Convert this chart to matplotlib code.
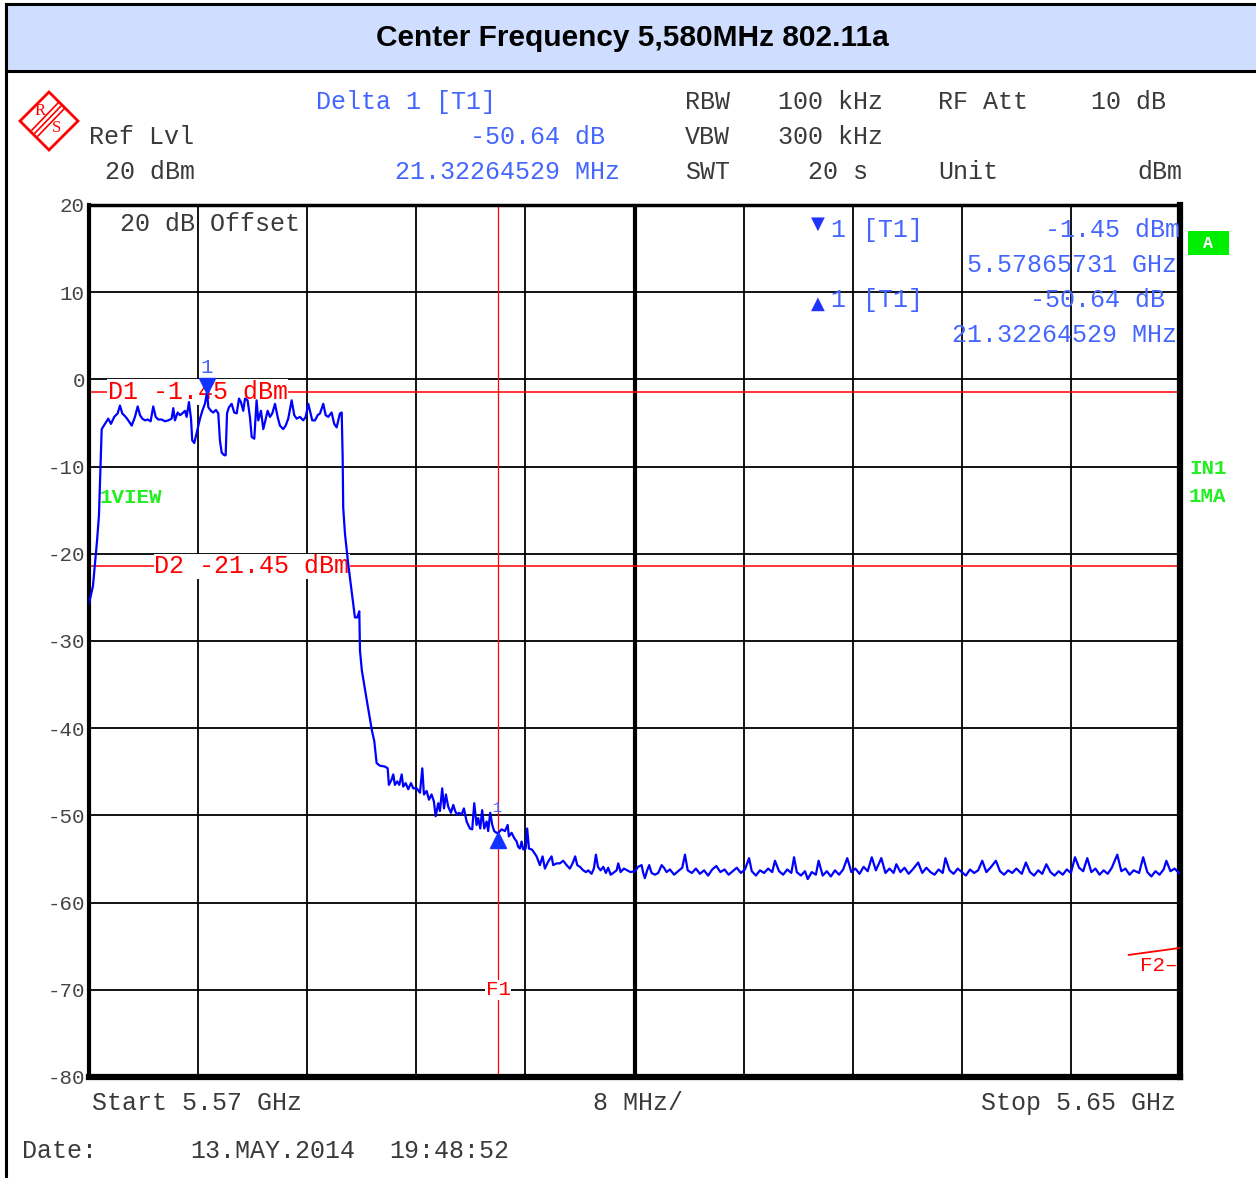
import numpy as np
import matplotlib.pyplot as plt
from matplotlib.patches import Rectangle, Polygon
from matplotlib.lines import Line2D
import matplotlib.transforms as mtransforms

# sweep settings
start_mhz = 5570.0
stop_mhz = 5650.0
ref_lvl = 20
bottom_lvl = -80

# marker / display lines
m1_freq = 5578.65731
m1_level = -1.45
delta_freq = 21.32264529
delta_level = -50.64
d1_level = -1.45
d2_level = -21.45
f1_freq = 5600.0

# trace: offset from start (MHz), level (dBm)
offset_mhz = [
    0.00, 0.29, 0.59, 0.73, 0.93, 1.17, 1.41, 1.61, 1.85, 2.10, 2.27, 2.44, 2.69, 2.88,
    3.13, 3.37, 3.57, 3.74, 3.91, 4.11, 4.30, 4.52, 4.71, 4.89, 5.08, 5.33, 5.57, 5.81,
    6.06, 6.18, 6.30, 6.50, 6.67, 6.84, 7.04, 7.16, 7.33, 7.48, 7.57, 7.72, 7.90, 8.14,
    8.31, 8.50, 8.66, 8.75, 8.94, 9.11, 9.31, 9.48, 9.60, 9.73, 9.92, 10.02, 10.12, 10.26,
    10.46, 10.65, 10.83, 11.00, 11.14, 11.31, 11.44, 11.63, 11.80, 11.93, 12.12, 12.29,
    12.41, 12.61, 12.78, 12.90, 13.10, 13.27, 13.44, 13.64, 13.83, 14.00, 14.24, 14.42,
    14.61, 14.86, 15.05, 15.23, 15.47, 15.71, 15.89, 16.08, 16.25, 16.37, 16.57, 16.77,
    16.94, 17.18, 17.35, 17.54, 17.79, 17.98, 18.16, 18.28, 18.40, 18.53, 18.60, 18.64,
    18.77, 19.01, 19.26, 19.50, 19.67, 19.82, 19.87, 20.01, 20.38, 20.75, 20.92, 21.09,
    21.33, 21.70, 21.90, 21.99, 22.19, 22.31, 22.43, 22.60, 22.75, 22.93, 23.04, 23.22,
    23.41, 23.61, 23.78, 24.03, 24.27, 24.44, 24.56, 24.76, 24.93, 25.12, 25.29, 25.42,
    25.61, 25.73, 25.90, 26.03, 26.17, 26.34, 26.54, 26.71, 26.83, 26.96, 27.13, 27.32,
    27.49, 27.69, 27.93, 28.10, 28.25, 28.42, 28.54, 28.69, 28.83, 28.98, 29.16, 29.27,
    29.42, 29.57, 29.71, 29.89, 30.01, 30.26, 30.50, 30.70, 30.79, 30.99, 31.18, 31.36,
    31.47, 31.60, 31.72, 31.84, 32.02, 32.13, 32.26, 32.46, 32.57, 32.82, 33.06, 33.26,
    33.43, 33.67, 33.92, 34.04, 34.29, 34.53, 34.77, 35.02, 35.26, 35.46, 35.65, 35.80,
    36.00, 36.24, 36.44, 36.61, 36.85, 37.02, 37.17, 37.32, 37.51, 37.71, 37.90, 38.07,
    38.25, 38.44, 38.69, 38.81, 38.98, 39.22, 39.46, 39.71, 40.03, 40.27, 40.52, 40.64,
    40.76, 40.93, 41.08, 41.25, 41.50, 41.74, 41.99, 42.16, 42.35,
    42.6, 42.9, 43.2, 43.5, 43.7, 43.9, 44.2, 44.5, 44.8, 45.1, 45.4, 45.7, 46.0, 46.3,
    46.6, 46.9, 47.2, 47.5, 47.8, 48.1, 48.4, 48.6, 48.9, 49.2, 49.5, 49.8, 50.1, 50.3,
    50.6, 50.9, 51.2, 51.5, 51.7, 51.9, 52.2, 52.5, 52.7, 53.0, 53.3, 53.5, 53.8, 54.1,
    54.4, 54.7, 55.0, 55.3, 55.6, 55.9, 56.2, 56.5, 56.8, 57.1, 57.4, 57.7, 58.1, 58.4,
    58.7, 59.0, 59.2, 59.5, 59.8, 60.1, 60.4, 60.8, 61.1, 61.4, 61.7, 62.0, 62.3, 62.6,
    62.8, 63.1, 63.4, 63.7, 64.0, 64.3, 64.6, 64.9, 65.2, 65.5, 65.8, 66.1, 66.5, 66.8,
    67.1, 67.4, 67.7, 68.0, 68.4, 68.7, 69.0, 69.3, 69.6, 69.9, 70.2, 70.5, 70.8, 71.1,
    71.4, 71.7, 72.0, 72.3, 72.6, 72.9, 73.2, 73.5, 73.8, 74.1, 74.4, 74.7, 75.0, 75.4,
    75.7, 76.0, 76.3, 76.6, 77.0, 77.3, 77.6, 77.9, 78.2, 78.5, 78.8, 79.0, 79.3, 79.6,
    80.0,
]
level_dbm = [
    -25.7, -23.7, -18.5, -15.6, -5.7, -5.1, -4.5, -5.1, -4.3, -3.9, -3.0, -3.9, -4.3, -4.7,
    -5.3, -4.3, -3.1, -4.1, -4.5, -4.7, -4.6, -4.8, -3.1, -4.3, -4.6, -4.6, -4.8, -4.7,
    -4.5, -3.3, -4.7, -3.8, -4.1, -3.9, -3.6, -4.3, -2.6, -4.5, -7.0, -7.3, -6.1, -4.5,
    -3.6, -2.8, -1.45, -3.2, -3.6, -3.8, -3.5, -3.9, -7.0, -8.4, -8.7, -8.7, -3.9, -3.2,
    -2.8, -3.8, -3.9, -2.2, -2.6, -3.6, -2.2, -2.4, -4.3, -6.6, -6.8, -2.4,
    -4.7, -3.6, -5.7, -4.9, -3.6, -4.3, -3.9, -2.8, -4.3, -5.3, -5.7, -5.3,
    -4.5, -2.4, -4.1, -4.5, -4.3, -4.7, -4.3, -2.8, -3.9, -4.7, -4.7, -4.1,
    -3.9, -2.8, -4.1, -4.3, -3.8, -5.1, -5.5, -4.7, -3.9, -3.8, -8.9, -14.7,
    -17.7, -21.2, -24.3, -27.3, -27.3, -26.6, -31.1, -33.4, -36.9, -40.3, -41.5, -44.0,
    -44.3, -44.4, -44.6, -46.5, -45.9, -45.3, -46.5, -46.1, -46.5, -45.3, -46.7, -46.3,
    -47.0, -46.3, -46.9, -46.9, -47.4, -44.6, -47.6, -47.2, -48.2, -47.6, -48.4, -50.1,
    -48.6, -49.5, -46.9, -49.2, -47.6, -49.0, -49.7, -48.8, -49.4, -49.9, -49.7, -49.9,
    -49.2, -50.7, -51.5, -51.6, -48.6, -51.1, -50.3, -51.5, -49.4, -51.5, -50.7, -51.8,
    -49.7, -51.1, -51.8, -52.0, -52.0, -51.6, -51.8, -51.1, -52.4, -52.0, -52.6, -53.0,
    -53.6, -53.8, -53.0, -53.9, -53.8, -51.5, -53.8, -53.9, -54.1, -54.7, -55.7, -54.7,
    -56.1, -55.3, -54.7, -55.7, -55.5, -55.5, -55.2, -55.7, -56.1, -55.5, -54.7, -55.7,
    -55.9, -56.3, -56.5, -56.3, -56.7, -56.1, -54.5, -55.9, -56.3, -55.9, -56.6, -56.0,
    -56.8, -56.6, -56.3, -55.5, -56.5, -56.1, -56.3, -56.5, -56.4, -55.9, -55.7, -56.6,
    -57.2, -56.3, -55.7, -56.6, -56.8, -56.6, -55.7, -56.0, -56.5,
    -56.2, -56.8, -56.4, -56.0, -54.5, -56.3, -56.6, -56.1, -56.7, -56.3, -56.9, -56.2, -55.8, -56.5,
    -56.2, -56.8, -56.4, -56.0, -56.6, -56.2, -54.9, -56.4, -56.9, -56.3, -56.6, -56.1, -56.5, -55.2,
    -56.4, -56.8, -56.2, -56.6, -54.8, -56.5, -56.9, -56.4, -57.3, -56.5, -56.8, -55.2, -56.9, -56.4,
    -57.0, -56.3, -56.8, -56.2, -54.9, -56.5, -56.1, -56.7, -55.9, -56.4, -54.8, -56.3, -54.9, -56.6,
    -56.1, -56.6, -55.6, -56.5, -56.0, -56.7, -56.2, -55.4, -56.6, -56.0, -56.5, -56.8, -56.2, -56.6,
    -54.9, -56.3, -56.7, -56.1, -56.5, -56.9, -56.2, -56.6, -56.3, -55.2, -56.5, -56.0, -55.2, -56.4,
    -56.8, -56.3, -56.6, -56.1, -56.7, -55.4, -56.5, -56.9, -56.3, -56.7, -55.6, -56.5, -56.9, -56.4,
    -56.8, -56.2, -56.6, -54.8, -56.0, -56.4, -54.9, -56.5, -56.1, -56.8, -56.3, -56.7, -56.0, -54.5,
    -56.4, -56.1, -56.8, -56.3, -56.6, -54.8, -56.5, -57.0, -56.4, -56.8, -56.2, -55.2, -56.4, -56.1,
    -56.7,
]

ytick_labels = ['20', '10', '0', '-10', '-20', '-30', '-40', '-50', '-60', '-70', '-80']

W, H = 1256, 1178
mono = 'Liberation Mono'
blue_txt = '#4466ff'
dark = '#3a3a3a'
fs = 18

fig = plt.figure(figsize=(W / 100, H / 100), dpi=100)


def fx(px):
    return px / W


def fy(py):
    return 1 - py / H


def label(px, py, s, color=dark, ha='left', size=fs, weight='normal', family=mono):
    fig.text(fx(px), fy(py), s, color=color, ha=ha, va='center', fontsize=size,
             fontweight=weight, family=family)


# outer frame + title band
fig.patches.append(Rectangle((fx(6), fy(1190)), fx(1262) - fx(6), fy(4) - fy(1190),
                             transform=fig.transFigure, fill=False, ec='black', lw=2.2))
fig.patches.append(Rectangle((fx(6), fy(71)), fx(1262) - fx(6), fy(4) - fy(71),
                             transform=fig.transFigure, fc='#cfdeff', ec='black', lw=2.2))
fig.text(fx(632), fy(38), 'Center Frequency 5,580MHz 802.11a', ha='center', va='center',
         fontsize=21.5, fontweight='bold', family='Liberation Sans')

# R&S logo
fig.patches.append(Polygon([(fx(49), fy(92)), (fx(78), fy(121)), (fx(49), fy(150)), (fx(20), fy(121))],
                           closed=True, transform=fig.transFigure, fc='white', ec='red', lw=2))
for d in (-3, 0, 3):
    fig.lines.append(Line2D([fx(61 + d), fx(35 + d)], [fy(106 + d), fy(133 + d)],
                            transform=fig.transFigure, color='red', lw=1.2))
label(40, 111, 'R', color='red', ha='center', size=12, family='Liberation Serif')
label(57, 128, 'S', color='red', ha='center', size=12, family='Liberation Serif')

# header text
label(316, 102, 'Delta 1 [T1]', color=blue_txt)
label(89, 137, 'Ref Lvl')
label(605, 137, '-50.64 dB', color=blue_txt, ha='right')
label(105, 172, '20 dBm')
label(620, 172, '21.32264529 MHz', color=blue_txt, ha='right')
label(685, 102, 'RBW')
label(778, 102, '100 kHz')
label(938, 102, 'RF Att')
label(1166, 102, '10 dB', ha='right')
label(685, 137, 'VBW')
label(778, 137, '300 kHz')
label(685, 172, 'SWT')
label(808, 172, '20 s')
label(938, 172, 'Unit')
label(1182, 172, 'dBm', ha='right')

# footer text
label(92, 1103, 'Start 5.57 GHz')
label(593, 1103, '8 MHz/')
label(1176, 1103, 'Stop 5.65 GHz', ha='right')
label(22, 1151, 'Date:')
label(190, 1151, '13.MAY.2014')
label(389, 1151, '19:48:52')

# side annotations
fig.patches.append(Rectangle((fx(1188), fy(255)), fx(1229) - fx(1188), fy(231) - fy(255),
                             transform=fig.transFigure, fc='#00ee00', ec='none'))
label(1208, 243, 'A', color='white', ha='center', size=12, weight='bold')
label(1189, 469, 'IN1', color='#22ee22', size=15, weight='bold')
label(1189, 497, '1MA', color='#22ee22', size=15, weight='bold')

# marker table
label(818, 224, '\u25bc', color='#2233ff', ha='center', size=13, family='DejaVu Sans')
label(830, 230, '1', color=blue_txt)
label(863, 230, '[T1]', color=blue_txt)
label(1180, 230, '-1.45 dBm', color=blue_txt, ha='right')
label(1177, 265, '5.57865731 GHz', color=blue_txt, ha='right')
label(818, 304, '\u25b2', color='#2233ff', ha='center', size=13, family='DejaVu Sans')
label(830, 300, '1', color=blue_txt)
label(863, 300, '[T1]', color=blue_txt)
label(1165, 300, '-50.64 dB', color=blue_txt, ha='right')
label(1177, 335, '21.32264529 MHz', color=blue_txt, ha='right')

# plot area
ax = fig.add_axes([fx(89), fy(1077), fx(1180) - fx(89), fy(205) - fy(1077)])
freq = start_mhz + np.array(offset_mhz)
ax.set_xlim(start_mhz, stop_mhz)
ax.set_ylim(bottom_lvl, ref_lvl)
ax.set_xticks(np.arange(start_mhz, stop_mhz + 1, 8))
ax.set_yticks(np.arange(ref_lvl, bottom_lvl - 1, -10))
ax.set_yticklabels(ytick_labels, family=mono, fontsize=15, color='#444444')
ax.set_xticklabels([])
ax.tick_params(length=0, pad=3)
ax.grid(True, color='black', lw=1.3, zorder=1)
ax.axvline((start_mhz + stop_mhz) / 2, color='black', lw=3, zorder=1)
for side, w in (('left', 3), ('bottom', 4.5), ('right', 4.5), ('top', 2.5)):
    ax.spines[side].set_linewidth(w)

ax.text(0.028, 0.978, '20 dB Offset', transform=ax.transAxes, family=mono, fontsize=fs,
        color=dark, va='center')
ax.text(0.01, 0.665, '1VIEW', transform=ax.transAxes, family=mono, fontsize=15,
        fontweight='bold', color='#22ee22', va='center')

# display lines
hbox = dict(fc='white', ec='none', pad=0.5)
ax.axhline(d1_level, color='red', lw=1.1, zorder=2)
ax.axhline(d2_level, color='red', lw=1.1, zorder=2)
ax.axvline(f1_freq, color='red', lw=0.9, zorder=2)
ax.text(0.017, d1_level, 'D1 -1.45 dBm', transform=ax.get_yaxis_transform(), family=mono,
        fontsize=fs, color='red', va='center', bbox=hbox, zorder=3)
ax.text(0.06, d2_level, 'D2 -21.45 dBm', transform=ax.get_yaxis_transform(), family=mono,
        fontsize=fs, color='red', va='center', bbox=hbox, zorder=3)
ax.text(f1_freq, 0.1, 'F1', transform=ax.get_xaxis_transform(), family=mono, fontsize=15,
        color='red', ha='center', va='center', bbox=hbox, zorder=3)
ax.plot([0.953, 1.0], [0.14, 0.148], transform=ax.transAxes, color='red', lw=1.3, zorder=3)
ax.text(0.998, 0.128, 'F2\u2013', transform=ax.transAxes, family=mono, fontsize=15,
        color='red', ha='right', va='center', zorder=3)

# trace
ax.plot(freq, level_dbm, color='#0000ff', lw=1.6, zorder=5)

# markers
up = mtransforms.offset_copy(ax.transData, fig=fig, x=0, y=6, units='dots')
down = mtransforms.offset_copy(ax.transData, fig=fig, x=0, y=-6, units='dots')
ax.plot([m1_freq], [m1_level], marker='v', ms=11, color='#1133ff', transform=up, zorder=6)
ax.text(m1_freq, m1_level, '1', transform=mtransforms.offset_copy(ax.transData, fig=fig, y=25, units='dots'),
        family=mono, fontsize=15, color=blue_txt, ha='center', va='center', zorder=6)
dm_freq = m1_freq + delta_freq
dm_level = m1_level + delta_level
ax.plot([dm_freq], [dm_level], marker='^', ms=11, color='#1133ff', transform=down, zorder=6)
ax.text(dm_freq, dm_level, '1', transform=mtransforms.offset_copy(ax.transData, fig=fig, y=26, units='dots'),
        family=mono, fontsize=11, color=blue_txt, ha='center', va='center', zorder=6)

fig.savefig('out.png', dpi=100)
